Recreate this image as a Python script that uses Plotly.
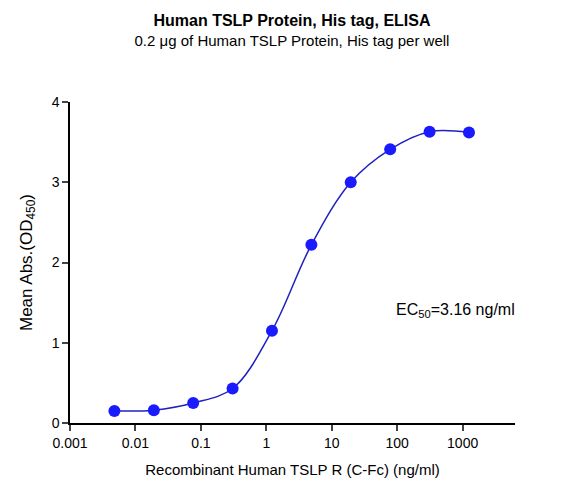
import plotly.graph_objects as go

conc = [0.00477, 0.0191, 0.0763, 0.305, 1.22, 4.88, 19.5, 78.1, 312.5, 1250]
od = [0.15, 0.16, 0.25, 0.43, 1.15, 2.22, 3.0, 3.41, 3.63, 3.62]
xticks = [0.001, 0.01, 0.1, 1, 10, 100, 1000]
xticklabels = ["0.001", "0.01", "0.1", "1", "10", "100", "1000"]
yticks = [0, 1, 2, 3, 4]

blue = "#1a1aff"
fig = go.Figure()
fig.add_trace(go.Scatter(x=conc, y=od, mode="lines", line=dict(color="#2020c0", width=1.5, shape="spline", smoothing=1.0), hoverinfo="skip"))
fig.add_trace(go.Scatter(x=conc, y=od, mode="markers", marker=dict(color=blue, size=12)))

font = "Liberation Sans, Arial, sans-serif"
fig.update_layout(
    width=568, height=502, showlegend=False,
    plot_bgcolor="white", paper_bgcolor="white",
    margin=dict(l=62, r=61, t=94, b=87),
    font=dict(family=font, color="black", size=15),
    title=dict(text="<b>Human TSLP Protein, His tag, ELISA</b><br><span style='font-size:15px'>0.2 μg of Human TSLP Protein, His tag per well</span>",
               x=0.5, xanchor="center", y=0.965, yanchor="top", font=dict(size=16)),
    xaxis=dict(type="log", range=[-3, 3.8], tickvals=xticks, ticktext=xticklabels,
               showline=True, linecolor="black", linewidth=1.5, ticks="outside", ticklen=6,
               tickwidth=1.5, showgrid=False, zeroline=False, tickfont=dict(size=14),
               title=dict(text="Recombinant Human TSLP R (C-Fc) (ng/ml)", font=dict(size=15))),
    yaxis=dict(range=[0, 4], tickvals=yticks, showline=True, linecolor="black", linewidth=1.5,
               ticks="outside", ticklen=6, tickwidth=1.5, showgrid=False, zeroline=False,
               tickfont=dict(size=14),
               title=dict(text="Mean Abs.(OD<sub>450</sub>)", font=dict(size=17))),
)
fig.add_annotation(x=1.95, y=1.4, xref="x", yref="y", text="EC<sub>50</sub>=3.16 ng/ml",
                   showarrow=False, xanchor="left", font=dict(size=16))
fig.write_html("out.html")
